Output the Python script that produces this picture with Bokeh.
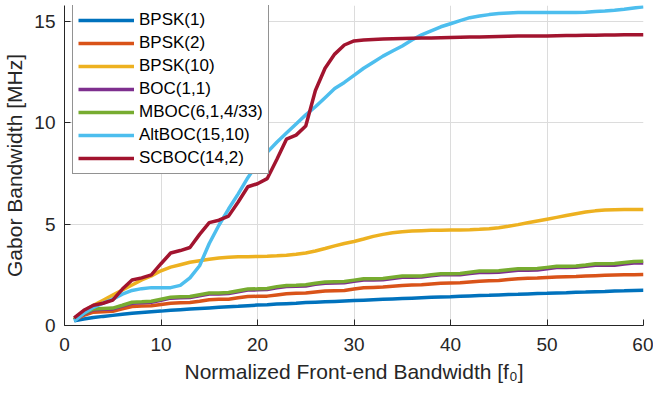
from bokeh.plotting import figure
from bokeh.models import Legend, LegendItem, Range1d, FixedTicker
from bokeh.embed import file_html
from bokeh.resources import INLINE

x = list(range(1, 61))

bpsk1 = [0.23, 0.32, 0.39, 0.45, 0.50, 0.55, 0.60, 0.64, 0.68, 0.71,
         0.75, 0.78, 0.81, 0.84, 0.87, 0.90, 0.93, 0.95, 0.98, 1.01,
         1.03, 1.06, 1.08, 1.10, 1.13, 1.15, 1.17, 1.19, 1.21, 1.23,
         1.25, 1.27, 1.29, 1.31, 1.33, 1.35, 1.37, 1.39, 1.41, 1.42,
         1.44, 1.46, 1.48, 1.49, 1.51, 1.53, 1.54, 1.56, 1.58, 1.59,
         1.61, 1.62, 1.64, 1.65, 1.67, 1.68, 1.70, 1.71, 1.73, 1.74]

bpsk2 = [0.28, 0.50, 0.66, 0.68, 0.70, 0.82, 0.94, 0.96, 0.97, 1.04,
         1.10, 1.12, 1.14, 1.20, 1.27, 1.29, 1.30, 1.37, 1.43, 1.44,
         1.45, 1.51, 1.57, 1.59, 1.60, 1.65, 1.70, 1.72, 1.73, 1.80,
         1.86, 1.88, 1.90, 1.94, 1.98, 2.00, 2.01, 2.05, 2.09, 2.10,
         2.11, 2.15, 2.19, 2.21, 2.22, 2.27, 2.31, 2.33, 2.34, 2.37,
         2.39, 2.41, 2.42, 2.44, 2.46, 2.48, 2.49, 2.50, 2.51, 2.52]

bpsk10 = [0.30, 0.70, 1.00, 1.25, 1.50, 1.75, 2.00, 2.25, 2.45, 2.70,
          2.88, 3.00, 3.12, 3.20, 3.27, 3.33, 3.37, 3.39, 3.40, 3.41,
          3.42, 3.44, 3.47, 3.52, 3.58, 3.68, 3.80, 3.93, 4.05, 4.15,
          4.27, 4.40, 4.50, 4.58, 4.63, 4.66, 4.68, 4.70, 4.70, 4.71,
          4.72, 4.73, 4.75, 4.78, 4.83, 4.90, 4.98, 5.07, 5.16, 5.25,
          5.34, 5.43, 5.52, 5.60, 5.66, 5.70, 5.72, 5.73, 5.73, 5.73]

boc11 = [0.28, 0.57, 0.78, 0.80, 0.82, 0.96, 1.10, 1.12, 1.15, 1.25,
         1.35, 1.37, 1.38, 1.47, 1.55, 1.56, 1.58, 1.67, 1.75, 1.76,
         1.78, 1.86, 1.93, 1.94, 1.95, 2.03, 2.09, 2.10, 2.11, 2.18,
         2.25, 2.25, 2.26, 2.32, 2.38, 2.38, 2.39, 2.45, 2.50, 2.50,
         2.51, 2.57, 2.62, 2.62, 2.63, 2.68, 2.73, 2.73, 2.74, 2.80,
         2.86, 2.86, 2.87, 2.92, 2.97, 2.97, 2.98, 3.03, 3.08, 3.09]

mboc = [0.30, 0.60, 0.82, 0.84, 0.86, 1.00, 1.15, 1.17, 1.20, 1.30,
        1.40, 1.42, 1.43, 1.52, 1.60, 1.61, 1.63, 1.72, 1.80, 1.81,
        1.83, 1.92, 1.98, 1.99, 2.01, 2.09, 2.15, 2.16, 2.17, 2.24,
        2.31, 2.31, 2.32, 2.38, 2.44, 2.44, 2.45, 2.51, 2.56, 2.56,
        2.57, 2.63, 2.69, 2.69, 2.70, 2.75, 2.80, 2.80, 2.81, 2.87,
        2.93, 2.93, 2.94, 2.99, 3.05, 3.05, 3.06, 3.11, 3.16, 3.17]

altboc = [0.22, 0.60, 0.90, 1.10, 1.30, 1.55, 1.73, 1.82, 1.87, 1.87,
          1.87, 1.98, 2.35, 2.95, 4.05, 4.95, 5.75, 6.50, 7.30, 8.00,
          8.55, 9.05, 9.50, 9.95, 10.40, 10.80, 11.25, 11.70, 12.00, 12.35,
          12.70, 13.00, 13.30, 13.55, 13.80, 14.10, 14.35, 14.55, 14.75, 14.90,
          15.05, 15.20, 15.28, 15.35, 15.40, 15.43, 15.45, 15.45, 15.45, 15.46,
          15.46, 15.46, 15.46, 15.47, 15.50, 15.53, 15.57, 15.62, 15.68, 15.74]

scboc = [0.38, 0.75, 1.00, 1.10, 1.25, 1.80, 2.25, 2.35, 2.50, 3.05,
         3.58, 3.70, 3.85, 4.50, 5.08, 5.20, 5.40, 6.10, 6.85, 7.00,
         7.25, 8.20, 9.20, 9.40, 9.85, 11.60, 12.70, 13.40, 13.85, 14.05,
         14.10, 14.12, 14.14, 14.16, 14.17, 14.18, 14.19, 14.20, 14.21, 14.22,
         14.23, 14.24, 14.25, 14.26, 14.27, 14.28, 14.29, 14.29, 14.30, 14.30,
         14.31, 14.32, 14.32, 14.33, 14.33, 14.34, 14.34, 14.35, 14.35, 14.36]

names = ["BPSK(1)", "BPSK(2)", "BPSK(10)", "BOC(1,1)", "MBOC(6,1,4/33)",
         "AltBOC(15,10)", "SCBOC(14,2)"]
series = [bpsk1, bpsk2, bpsk10, boc11, mboc, altboc, scboc]
colors = ["#0072BD", "#D95319", "#EDB120", "#7E2F8E", "#77AC30",
          "#4DBEEE", "#A2142F"]

xticks = [0, 10, 20, 30, 40, 50, 60]
yticks = [0, 5, 10, 15]

FONT = "Liberation Sans"
TXT = "#262626"

p = figure(width=653, height=394, output_backend="svg", toolbar_location=None,
           x_range=Range1d(0, 60), y_range=Range1d(0, 15.8),
           min_border_left=63, min_border_right=10, min_border_top=5,
           min_border_bottom=69)
p.outline_line_color = None
p.background_fill_color = "white"
p.border_fill_color = "white"

renderers = []
for name, ys, c in zip(names, series, colors):
    r = p.line(x, ys, line_color=c, line_width=3.5)
    renderers.append((name, r))

for ax in (p.xaxis[0], p.yaxis[0]):
    ax.axis_line_color = TXT
    ax.axis_line_width = 1
    ax.major_tick_in = 6
    ax.major_tick_out = 0
    ax.major_tick_line_color = TXT
    ax.minor_tick_line_color = None
    ax.major_label_text_font = FONT
    ax.major_label_text_font_size = "19px"
    ax.major_label_text_color = TXT
    ax.axis_label_text_font = FONT
    ax.axis_label_text_font_size = "21px"
    ax.axis_label_text_font_style = "normal"
    ax.axis_label_text_color = TXT

p.xaxis.ticker = FixedTicker(ticks=xticks)
p.yaxis.ticker = FixedTicker(ticks=yticks)
p.xaxis.axis_label = "Normalized Front-end Bandwidth [f\u2080]"
p.yaxis.axis_label = "Gabor Bandwidth [MHz]"
p.xaxis.major_label_standoff = 12
p.yaxis.major_label_standoff = 9
p.xaxis.axis_label_standoff = 6
p.yaxis.axis_label_standoff = 5

p.xgrid.grid_line_color = "#dcdcdc"
p.ygrid.grid_line_color = "#dcdcdc"
p.xgrid.grid_line_width = 1
p.ygrid.grid_line_width = 1

legend = Legend(items=[LegendItem(label=n, renderers=[r]) for n, r in renderers],
                location=(8, 151))
legend.label_text_font = FONT
legend.label_text_font_size = "17px"
legend.label_text_color = "black"
legend.glyph_width = 56
legend.glyph_height = 20
legend.label_height = 20
legend.spacing = 3
legend.padding = 5
legend.margin = 0
legend.label_standoff = 5
legend.border_line_color = TXT
legend.border_line_width = 1
legend.background_fill_color = "white"
legend.background_fill_alpha = 1
p.add_layout(legend)

open("out.html", "w").write(file_html(p, INLINE))
